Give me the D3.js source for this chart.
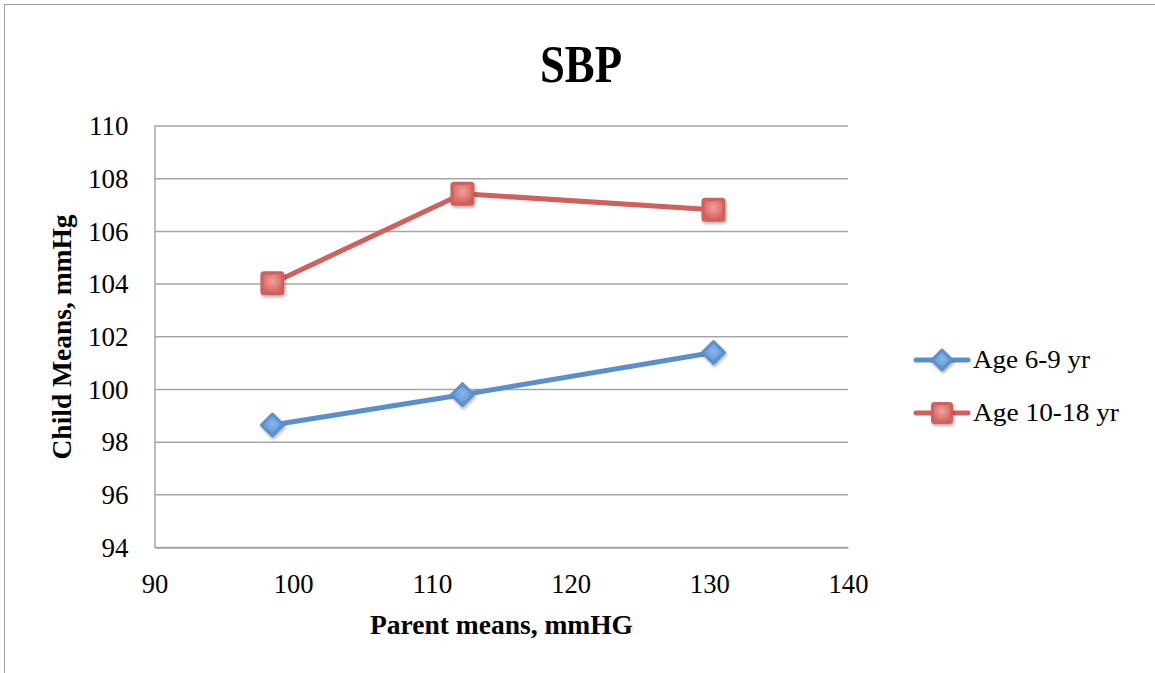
<!DOCTYPE html>
<html><head><meta charset="utf-8">
<script src="https://cdn.jsdelivr.net/npm/d3@7"></script>
<style>html,body{margin:0;padding:0;background:#fff;}svg{display:block;}</style>
</head><body>
<svg id="chart" width="1155" height="673"></svg>
<script>
const title = "SBP";
const xTitle = "Parent means, mmHG";
const yTitle = "Child Means, mmHg";
const xTicks = [90, 100, 110, 120, 130, 140];
const yTicks = [94, 96, 98, 100, 102, 104, 106, 108, 110];
const parentMeans = [98.5, 112.2, 130.3];
const age6to9 = [98.65, 99.8, 101.4];
const age10to18 = [104.03, 107.43, 106.82];
const seriesNames = ["Age 6-9 yr", "Age 10-18 yr"];

const svg = d3.select("#chart");
const font = "'Liberation Serif', 'DejaVu Serif', serif";
const M = {left:154.5, right:848, top:126, bottom:547.5};
const x = d3.scaleLinear().domain([90,140]).range([M.left, M.right]);
const y = d3.scaleLinear().domain([94,110]).range([M.bottom, M.top]);

// defs
const defs = svg.append("defs");
const gR = defs.append("radialGradient").attr("id","gR").attr("cx","50%").attr("cy","40%").attr("r","60%");
gR.append("stop").attr("offset","0%").attr("stop-color","#f2a09c");
gR.append("stop").attr("offset","100%").attr("stop-color","#d4605b");
const gB = defs.append("radialGradient").attr("id","gB").attr("cx","50%").attr("cy","45%").attr("r","55%");
gB.append("stop").attr("offset","0%").attr("stop-color","#86b7ee");
gB.append("stop").attr("offset","100%").attr("stop-color","#5b8fcc");
const sh = defs.append("filter").attr("id","sh").attr("x","-50%").attr("y","-50%").attr("width","200%").attr("height","200%");
sh.append("feDropShadow").attr("dx",1).attr("dy",2).attr("stdDeviation",1.5).attr("flood-color","#000").attr("flood-opacity",0.3);

// outer border
svg.append("rect").attr("x",4.5).attr("y",4.5).attr("width",1160).attr("height",680)
  .attr("fill","none").attr("stroke","#a0a0a0").attr("stroke-width",1);

// gridlines
svg.append("g").selectAll("line").data(yTicks).join("line")
  .attr("x1", M.left).attr("x2", M.right)
  .attr("y1", d=>y(d)).attr("y2", d=>y(d))
  .attr("stroke","#a6a6a6").attr("stroke-width",1.5);

// y axis
const yAxis = d3.axisLeft(y).tickValues(yTicks).tickSize(0).tickPadding(26).tickFormat(d3.format("d"));
const yg = svg.append("g").attr("transform",`translate(${M.left},0)`).call(yAxis);
yg.select(".domain").attr("stroke","#a6a6a6").attr("stroke-width",1.5);
yg.selectAll("text").attr("font-family",font).attr("font-size",27).attr("fill","#000");

// x axis
const xAxis = d3.axisBottom(x).tickValues(xTicks).tickSize(0).tickPadding(26).tickFormat(d3.format("d"));
const xg = svg.append("g").attr("transform",`translate(0,${M.bottom})`).call(xAxis);
xg.select(".domain").attr("stroke","#a6a6a6").attr("stroke-width",1.5);
xg.selectAll("text").attr("font-family",font).attr("font-size",27).attr("fill","#000")
  .attr("textLength",d=>String(d).length*13.3).attr("lengthAdjust","spacingAndGlyphs");

// titles
svg.append("text").attr("x",581).attr("y",82).attr("text-anchor","middle")
  .attr("font-family",font).attr("font-weight","bold").attr("font-size",52)
  .attr("textLength",82).attr("lengthAdjust","spacingAndGlyphs").text(title);
svg.append("text").attr("x",501.5).attr("y",634).attr("text-anchor","middle")
  .attr("font-family",font).attr("font-weight","bold").attr("font-size",28)
  .attr("textLength",263).attr("lengthAdjust","spacingAndGlyphs").text(xTitle);
svg.append("text").attr("transform",`translate(71,337) rotate(-90)`).attr("text-anchor","middle")
  .attr("font-family",font).attr("font-weight","bold").attr("font-size",27)
  .attr("textLength",245).attr("lengthAdjust","spacingAndGlyphs").text(yTitle);

const line = d3.line().x(d=>x(d[0])).y(d=>y(d[1]));
const dBlue = parentMeans.map((p,i)=>[p, age6to9[i]]);
const dRed = parentMeans.map((p,i)=>[p, age10to18[i]]);

svg.append("path").datum(dBlue).attr("d",line).attr("fill","none").attr("stroke","#5b8fcc").attr("stroke-width",5).attr("stroke-linejoin","round");
svg.append("path").datum(dRed).attr("d",line).attr("fill","none").attr("stroke","#d0605b").attr("stroke-width",5).attr("stroke-linejoin","round");

function diamond(g, cx, cy, s){
  g.append("path").attr("d",`M${cx},${cy-s}L${cx+s},${cy}L${cx},${cy+s}L${cx-s},${cy}Z`)
   .attr("fill","url(#gB)").attr("stroke","#5b8fcc").attr("stroke-width",3).attr("stroke-linejoin","round").attr("filter","url(#sh)");
}
function square(g, cx, cy, s){
  g.append("rect").attr("x",cx-s).attr("y",cy-s).attr("width",2*s).attr("height",2*s).attr("rx",2)
   .attr("fill","url(#gR)").attr("stroke","#d0605b").attr("stroke-width",3).attr("filter","url(#sh)");
}
const mg = svg.append("g");
dBlue.forEach(d=>diamond(mg, x(d[0]), y(d[1]), 11));
dRed.forEach(d=>square(mg, x(d[0]), y(d[1]), 10.5));

// legend
const lg = svg.append("g");
const legY = [360, 413];
const legW = [117, 146];
const colors = ["#5b8fcc","#d0605b"];
seriesNames.forEach((n,i)=>{
  lg.append("line").attr("x1",916).attr("x2",968).attr("y1",legY[i]).attr("y2",legY[i])
    .attr("stroke",colors[i]).attr("stroke-width",5).attr("stroke-linecap","round");
  if(i===0) diamond(lg, 942, legY[i], 10); else square(lg, 942, legY[i], 9.5);
  lg.append("text").attr("x",973).attr("y",legY[i]+8).attr("font-family",font).attr("font-size",25)
    .attr("textLength",legW[i]).attr("lengthAdjust","spacingAndGlyphs").text(n);
});
</script>
</body></html>
